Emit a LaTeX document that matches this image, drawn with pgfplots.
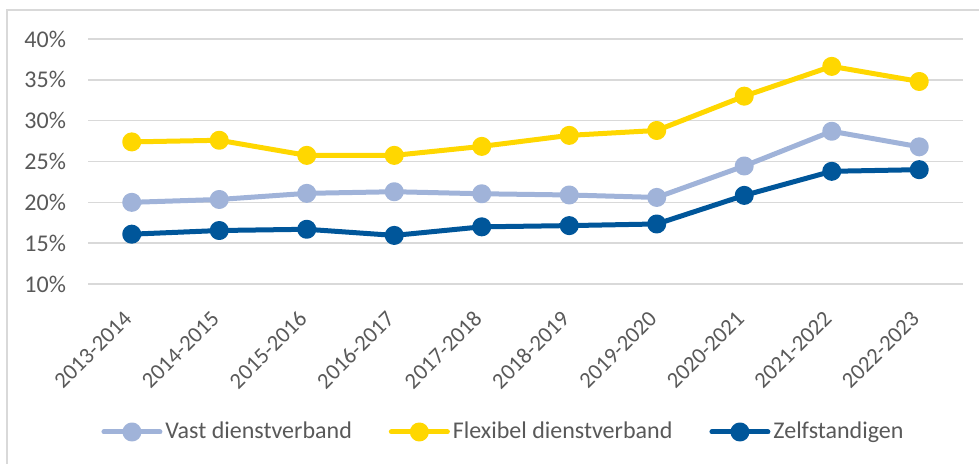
\documentclass[border=0pt]{standalone}
\usepackage{fontspec}
\setmainfont{Carlito}
\usepackage{pgfplots}
\pgfplotsset{compat=1.18}
\definecolor{Cvast}{HTML}{A0B3D9}
\definecolor{Cflex}{HTML}{FFD700}
\definecolor{Czelf}{HTML}{00569A}
\definecolor{Cgrid}{HTML}{D9D9D9}
\definecolor{Ctext}{HTML}{595959}

\begin{document}
\begin{tikzpicture}
\path[use as bounding box] (0,0) rectangle (489.5bp,232bp);
\draw[Cgrid, line width=0.75bp] (3.5bp,0) -- (3.5bp,227bp) -- (489.5bp,227bp);
\begin{axis}[
  at={(44bp,90bp)}, anchor=south west,
  scale only axis, width=437.5bp, height=122.5bp,
  xmin=-0.5, xmax=9.5, ymin=10, ymax=40,
  clip=false,
  axis line style={draw=none},
  major tick length=0pt,
  ytick={10,15,...,40},
  yticklabels={10\%,15\%,20\%,25\%,30\%,35\%,40\%},
  xtick={0,...,9},
  xticklabels={2013-2014,2014-2015,2015-2016,2016-2017,2017-2018,2018-2019,2019-2020,2020-2021,2021-2022,2022-2023},
  ymajorgrids, grid style={Cgrid, line width=0.75bp},
  tick label style={font=\fontsize{12bp}{14bp}\selectfont, text=Ctext},
  yticklabel style={xshift=-7.5bp},
  xticklabel style={font=\fontsize{11.3bp}{13bp}\selectfont,
    yshift=-13bp, xshift=0.5bp, rotate=45, anchor=east},
  every axis plot/.append style={line width=2.5bp, line cap=round, line join=round,
    mark=*, mark size=3.5bp},
  legend columns=3,
  legend style={at={(0.4754,-0.604)}, anchor=center, draw=none,
    font=\fontsize{12bp}{14bp}\selectfont, text=Ctext,
    nodes={inner xsep=1.5bp},
    /tikz/every even column/.append style={column sep=17bp}},
  legend image code/.code={\draw[mark repeat=2,mark phase=2]
    plot coordinates {(0bp,0bp) (14bp,0bp) (28bp,0bp)};},
]
\addplot[color=Cvast] coordinates {
  (0,20.0) (1,20.35) (2,21.1) (3,21.3) (4,21.05)
  (5,20.9) (6,20.6) (7,24.45) (8,28.7) (9,26.8)
};
\addlegendentry{Vast dienstverband}
\addplot[color=Cflex] coordinates {
  (0,27.4) (1,27.6) (2,25.75) (3,25.75) (4,26.85)
  (5,28.2) (6,28.8) (7,33.0) (8,36.65) (9,34.8)
};
\addlegendentry{Flexibel dienstverband}
\addplot[color=Czelf] coordinates {
  (0,16.1) (1,16.55) (2,16.7) (3,15.95) (4,17.0)
  (5,17.15) (6,17.35) (7,20.85) (8,23.8) (9,24.0)
};
\addlegendentry{Zelfstandigen}
\end{axis}
\end{tikzpicture}
\end{document}
